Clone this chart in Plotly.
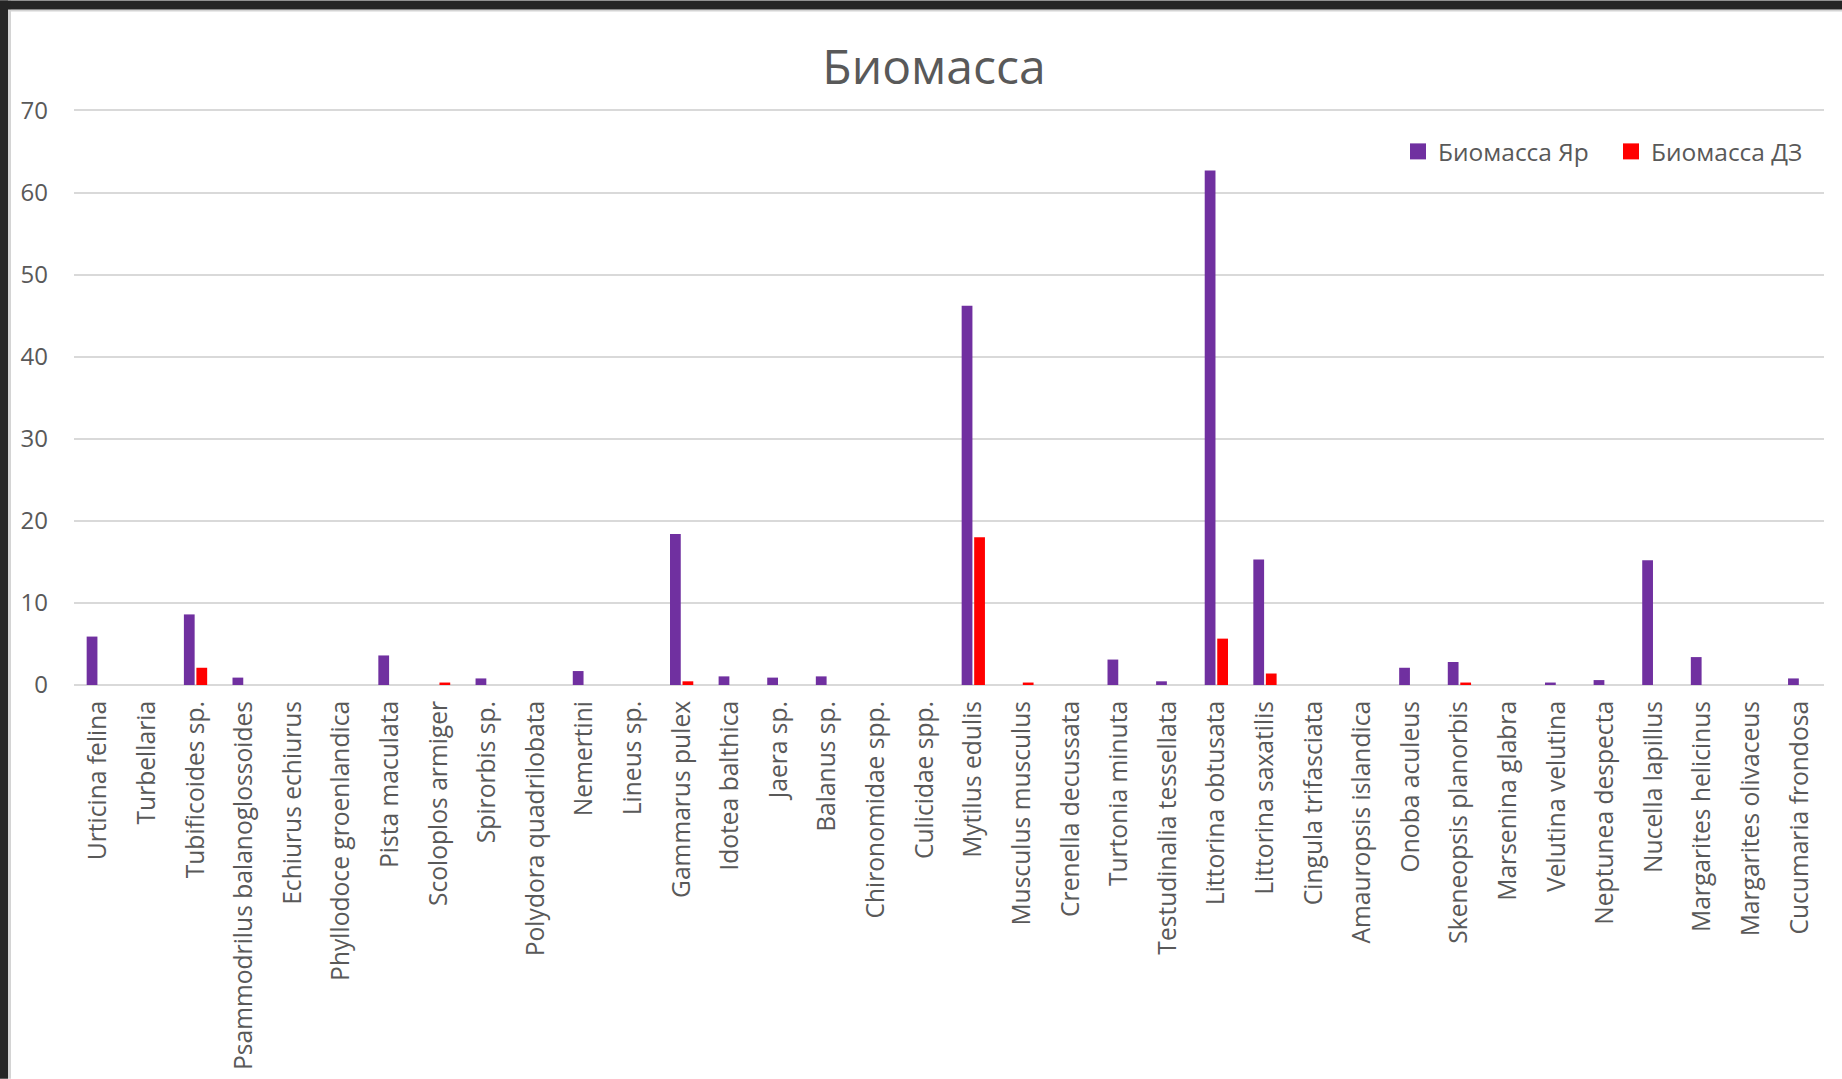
import plotly.graph_objects as go

categories = [
    "Urticina felina", "Turbellaria", "Tubificoides sp.", "Psammodrilus balanoglossoides",
    "Echiurus echiurus", "Phyllodoce groenlandica", "Pista maculata", "Scoloplos armiger",
    "Spirorbis sp.", "Polydora quadrilobata", "Nemertini", "Lineus sp.", "Gammarus pulex",
    "Idotea balthica", "Jaera sp.", "Balanus sp.", "Chironomidae spp.", "Culicidae spp.",
    "Mytilus edulis", "Musculus musculus", "Crenella decussata", "Turtonia minuta",
    "Testudinalia tessellata", "Littorina obtusata", "Littorina saxatilis",
    "Cingula trifasciata", "Amauropsis islandica", "Onoba aculeus", "Skeneopsis planorbis",
    "Marsenina glabra", "Velutina velutina", "Neptunea despecta", "Nucella lapillus",
    "Margarites helicinus", "Margarites olivaceus", "Cucumaria frondosa",
]

biomass_yar = [
    5.9, 0, 8.6, 0.9, 0, 0, 3.6, 0, 0.8, 0, 1.7, 0, 18.4, 1.05, 0.9, 1.05, 0, 0,
    46.2, 0, 0, 3.1, 0.45, 62.7, 15.3, 0, 0, 2.1, 2.8, 0, 0.3, 0.6, 15.2, 3.4, 0, 0.8,
]

biomass_dz = [
    0, 0, 2.1, 0, 0, 0, 0, 0.3, 0, 0, 0, 0, 0.45, 0, 0, 0, 0, 0,
    18.0, 0.3, 0, 0, 0, 5.65, 1.4, 0, 0, 0, 0.3, 0, 0, 0, 0, 0, 0, 0,
]

series_names = ["Биомасса Яр", "Биомасса ДЗ"]
series_colors = ["#7030A0", "#FF0000"]
y_ticks = [0, 10, 20, 30, 40, 50, 60, 70]
y_max = 70.3

W, H = 1842, 1079
L, R, T, B = 74, 1824, 107.5, 685
TXT = "#595959"
FONT = "Open Sans"

fig = go.Figure()
for name, vals, col in zip(series_names, [biomass_yar, biomass_dz], series_colors):
    fig.add_trace(go.Bar(name=name, x=categories, y=vals, showlegend=False,
                         marker=dict(color=col, line=dict(width=0))))
# legend entries with larger square swatches
for name, col in zip(series_names, series_colors):
    fig.add_trace(go.Scatter(name=name, x=[None], y=[None], mode="markers",
                             marker=dict(symbol="square", size=16, color=col),
                             showlegend=True))

def px_x(p):
    return (p - L) / (R - L)

def px_y(p):
    return (B - p) / (B - T)

shapes = [
    dict(type="rect", xref="paper", yref="paper", x0=px_x(0), x1=px_x(W), y0=px_y(11), y1=px_y(9),
         fillcolor="#d4d4d4", line=dict(width=0), layer="above"),
    dict(type="rect", xref="paper", yref="paper", x0=px_x(8), x1=px_x(11), y0=px_y(H), y1=px_y(0),
         fillcolor="#d4d4d4", line=dict(width=0), layer="above"),
    dict(type="rect", xref="paper", yref="paper", x0=px_x(0), x1=px_x(W), y0=px_y(9), y1=px_y(0),
         fillcolor="#252525", line=dict(width=0), layer="above"),
    dict(type="rect", xref="paper", yref="paper", x0=px_x(0), x1=px_x(8), y0=px_y(H), y1=px_y(0),
         fillcolor="#252525", line=dict(width=0), layer="above"),
]

fig.update_layout(
    width=W, height=H,
    margin=dict(l=L, r=W - R, t=T, b=H - B, autoexpand=False),
    paper_bgcolor="white", plot_bgcolor="white",
    font=dict(family=FONT, color=TXT, size=24),
    title=dict(text="Биомасса", x=934 / W, xanchor="center", y=1 - 67 / H, yanchor="middle",
               xref="container", yref="container",
               font=dict(family=FONT, size=48, color=TXT)),
    barmode="group", bargap=0.485, bargroupgap=0.14,
    showlegend=True,
    legend=dict(orientation="h", x=px_x(1398), xanchor="left", y=px_y(151), yanchor="middle",
                font=dict(family=FONT, size=24.5, color=TXT), bgcolor="rgba(0,0,0,0)",
                entrywidth=168, entrywidthmode="pixels", traceorder="normal"),
    shapes=shapes,
)

fig.update_xaxes(
    type="category", tickangle=-90, showgrid=False, zeroline=False,
    showline=False, ticks="", ticklabelstandoff=10,
    tickfont=dict(family=FONT, size=24.6, color=TXT),
)
fig.update_yaxes(
    range=[0, y_max], tickvals=y_ticks, showgrid=True, gridcolor="#d9d9d9", gridwidth=1.5,
    zeroline=True, zerolinecolor="#d9d9d9", zerolinewidth=1.5, showline=False, ticks="",
    ticklabelstandoff=25, tickfont=dict(family=FONT, size=24, color=TXT),
)

fig.write_html("out.html")
